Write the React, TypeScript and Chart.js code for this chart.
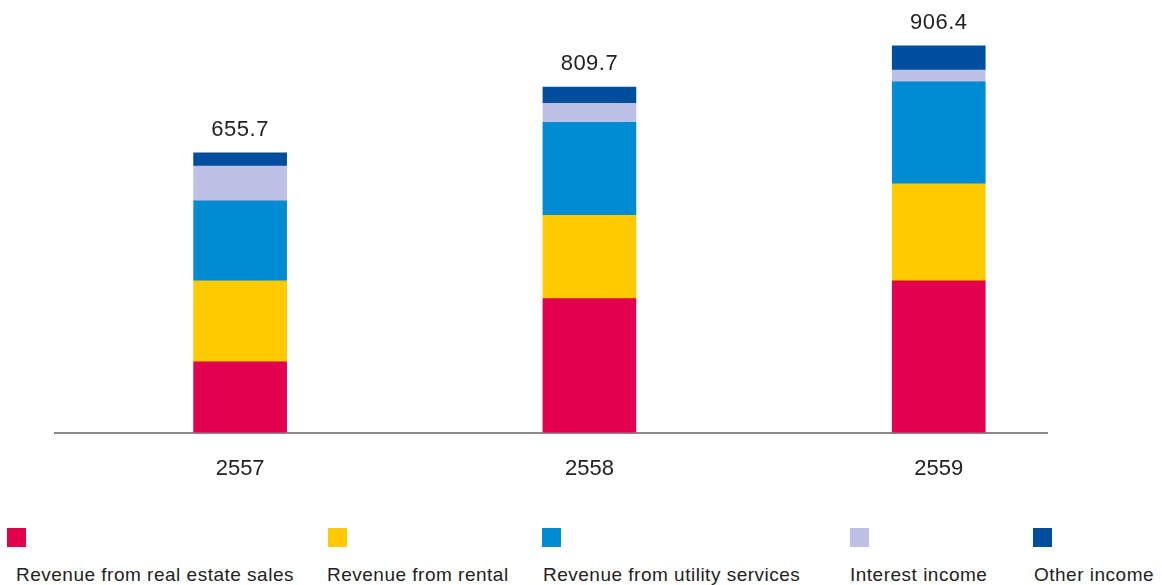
import React, { useEffect, useRef } from "react";
import { Chart, registerables } from "chart.js";

Chart.register(...registerables);

const years = ["2557", "2558", "2559"];
const totals = [655.7, 809.7, 906.4];
const realEstateSales = [166, 314, 356];
const rental = [190, 195, 227];
const utilityServices = [187, 218, 239];
const interestIncome = [82, 45, 28];
const otherIncome = [30.7, 37.7, 56.4];

const seriesNames = [
  "Revenue from real estate sales",
  "Revenue from rental",
  "Revenue from utility services",
  "Interest income",
  "Other income",
];
const seriesColors = ["#E2004F", "#FFCA00", "#008BD2", "#BCC1E5", "#004F9E"];
const seriesValues = [realEstateSales, rental, utilityServices, interestIncome, otherIncome];

const legendX = [7, 328, 542, 850, 1033];
const legendTextX = [16, 327, 543, 850, 1034];

const FONT = "'Liberation Sans', Arial, sans-serif";

export default function App() {
  const ref = useRef<HTMLCanvasElement>(null);
  useEffect(() => {
    document.body.style.margin = "0";
    const totalsPlugin = {
      id: "totals",
      afterDatasetsDraw(chart: any) {
        const ctx = chart.ctx;
        const last = chart.getDatasetMeta(chart.data.datasets.length - 1);
        ctx.save();
        ctx.font = `22px ${FONT}`;
        (ctx as any).letterSpacing = "0.5px";
        ctx.fillStyle = "#222";
        ctx.textAlign = "center";
        ctx.textBaseline = "alphabetic";
        totals.forEach((t, i) => {
          const el = last.data[i];
          const top = chart.scales.y.getPixelForValue(t);
          ctx.fillText(t.toFixed(1), el.x, top - 17);
        });
        ctx.restore();
      },
    };
    const chart = new Chart(ref.current!, {
      type: "bar",
      data: {
        datasets: seriesValues.map((vals, si) => ({
          label: seriesNames[si],
          data: vals.map((v, i) => ({ x: i, y: v })),
          backgroundColor: seriesColors[si],
          borderWidth: 0,
          barThickness: 93,
          stack: "s",
        })),
      },
      options: {
        animation: false,
        responsive: false,
        maintainAspectRatio: false,
        layout: { padding: { left: 55, right: 115, top: 0, bottom: 1 } },
        plugins: { legend: { display: false }, tooltip: { enabled: false } },
        scales: {
          x: {
            type: "linear",
            offset: false,
            min: -0.53,
            max: 2.31,
            grid: { display: false, drawTicks: false, offset: false },
            border: { display: true, color: "#8a8a8a", width: 2 },
            afterBuildTicks: (scale: any) => {
              scale.ticks = years.map((_, i) => ({ value: i }));
            },
            ticks: {
              autoSkip: false,
              maxRotation: 0,
              padding: 23,
              color: "#222",
              font: { family: FONT, size: 22 },
              callback: (v: any) => years[Math.round(Number(v))] ?? "",
            },
          },
          y: {
            stacked: true,
            display: false,
            min: 0,
            max: 1014,
          },
        },
      },
      plugins: [totalsPlugin],
    });
    return () => chart.destroy();
  }, []);

  return (
    <div style={{ position: "relative", width: 1162, height: 585, overflow: "hidden", background: "#fff" }}>
      <canvas ref={ref} width={1162} height={506} style={{ position: "absolute", left: 0, top: 0 }} />
      {seriesNames.map((n, i) => (
        <React.Fragment key={n}>
          <div
            style={{
              position: "absolute",
              left: legendX[i],
              top: 528,
              width: 19,
              height: 19,
              background: seriesColors[i],
            }}
          />
          <div
            style={{
              position: "absolute",
              left: legendTextX[i],
              top: 563,
              fontFamily: FONT,
              fontSize: 19,
              letterSpacing: "0.5px",
              lineHeight: "24px",
              color: "#222",
              whiteSpace: "nowrap",
            }}
          >
            {n}
          </div>
        </React.Fragment>
      ))}
    </div>
  );
}
